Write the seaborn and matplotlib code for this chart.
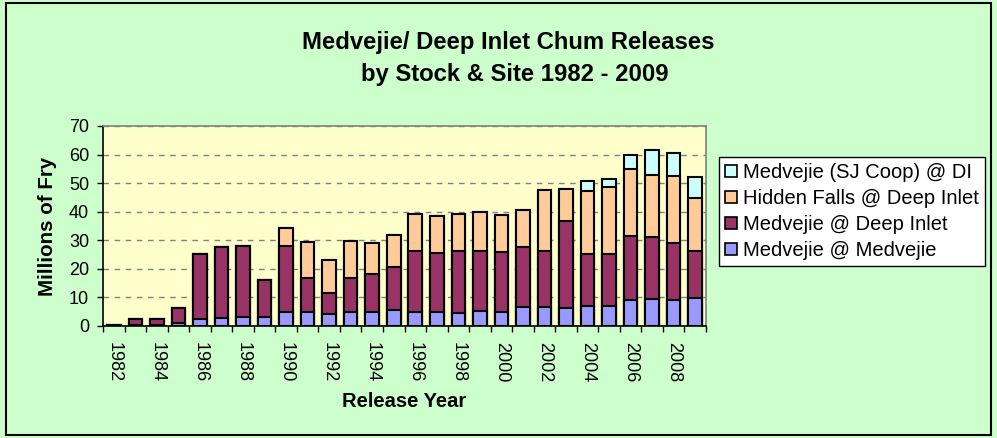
import numpy as np
import pandas as pd
import matplotlib
matplotlib.use("Agg")
import matplotlib.pyplot as plt
import seaborn as sns
from matplotlib.patches import Patch, Rectangle

# Data (millions of fry)
years = list(range(1982, 2010))
medvejie_at_medvejie = [0.1, 0.5, 0.5, 1.2, 2.3, 2.8, 3.0, 3.0, 4.9, 4.9,
                        4.1, 4.9, 4.9, 5.6, 4.9, 4.9, 4.4, 5.3, 4.9, 6.8,
                        6.8, 6.4, 6.9, 6.9, 9.1, 9.5, 9.1, 9.7]
medvejie_at_deep_inlet = [0.2, 1.8, 1.8, 5.1, 22.8, 24.7, 25.0, 13.2, 23.1, 12.0,
                          7.4, 11.8, 13.2, 14.9, 21.2, 20.8, 22.0, 21.1, 21.0, 21.0,
                          19.3, 30.5, 18.2, 18.2, 22.4, 21.5, 19.8, 16.4]
hidden_falls_at_deep_inlet = [0, 0, 0, 0, 0, 0, 0, 0, 6.3, 12.6,
                              11.7, 13.0, 10.9, 11.5, 13.2, 12.8, 12.7, 13.4, 13.1, 12.9,
                              21.5, 11.2, 22.3, 23.4, 23.3, 21.7, 23.6, 18.7]
sj_coop_at_di = [0, 0, 0, 0, 0, 0, 0, 0, 0, 0,
                 0, 0, 0, 0, 0, 0, 0, 0, 0, 0,
                 0, 0, 3.2, 3.1, 4.9, 9.0, 8.2, 7.2]

series_names = ["Medvejie @ Medvejie", "Medvejie @ Deep Inlet",
                "Hidden Falls @ Deep Inlet", "Medvejie (SJ Coop) @ DI"]
series_colors = ["#9999FF", "#993366", "#FFCC99", "#CCFFFF"]
tick_years = [str(y) for y in years[::2]]

sns.set_style("white")
plt.rcParams['font.family'] = ['Liberation Sans', 'DejaVu Sans']
plt.rcParams.update({"text.color": "black", "axes.labelcolor": "black",
                     "xtick.color": "black", "ytick.color": "black"})

df = pd.DataFrame({
    "Year": [str(y) for y in years],
    series_names[0]: medvejie_at_medvejie,
    series_names[1]: medvejie_at_deep_inlet,
    series_names[2]: hidden_falls_at_deep_inlet,
    series_names[3]: sj_coop_at_di,
})
# running totals for stacking
cum = df[series_names].cumsum(axis=1)
cum["Year"] = df["Year"]

fig = plt.figure(figsize=(9.97, 4.38), dpi=100, facecolor="#CCFFCC")
ax = fig.add_axes([103 / 997, 1 - 326 / 438, 603 / 997, 200 / 438])
ax.set_facecolor("#FFFFCC")
ax.set_axisbelow(True)

# draw tallest stack first, lower segments on top of it
for name, color in zip(reversed(series_names), reversed(series_colors)):
    sns.barplot(data=cum, x="Year", y=name, color=color, saturation=1,
                edgecolor="black", linewidth=1.5, width=0.63,
                errorbar=None, ax=ax)

ax.set_ylim(0, 70)
ax.set_xlim(-0.5, len(years) - 0.5)
ax.set_yticks(range(0, 71, 10))
ax.yaxis.grid(True, color="#808080", linestyle=(0, (4, 4)), linewidth=1)
ax.tick_params(axis="y", direction="out", length=4.5, width=1, pad=5.5,
               labelsize=13, left=True, color="black", labelcolor="black")

# boundary ticks, labels on every other year
ax.set_xticks(np.arange(-0.5, len(years), 1), labels=[""] * (len(years) + 1))
ax.set_xticks(np.arange(0, len(years), 2), labels=tick_years, minor=True)
ax.tick_params(axis="x", which="major", direction="out", length=4.5,
               width=1, bottom=True, color="black")
ax.tick_params(axis="x", which="minor", length=0, pad=11.5, labelsize=13,
               labelrotation=-90, labelcolor="black")

for s in ["left", "bottom"]:
    ax.spines[s].set_color("black")
    ax.spines[s].set_linewidth(1.2)
for s in ["top", "right"]:
    ax.spines[s].set_color("#808080")
    ax.spines[s].set_linewidth(1.2)

ax.set_ylabel("Millions of Fry", fontsize=14.8, fontweight="bold", color="black")
ax.yaxis.set_label_coords(-0.077, 0.5)
ax.set_xlabel("Release Year", fontsize=14.5, fontweight="bold", color="black")
ax.xaxis.set_label_coords(0.5, -0.33)

fig.text(508 / 997, 1 - 42 / 438, "Medvejie/ Deep Inlet Chum Releases",
         ha="center", va="center", fontsize=17.2, fontweight="bold", color="black")
fig.text(515 / 997, 1 - 74 / 438, "by Stock & Site 1982 - 2009",
         ha="center", va="center", fontsize=17.2, fontweight="bold", color="black")

handles = [Patch(facecolor=c, edgecolor="black", linewidth=1.2)
           for c in reversed(series_colors)]
leg = fig.legend(handles, list(reversed(series_names)), loc="upper left",
                 bbox_to_anchor=(719 / 997, 1 - 157 / 438), borderaxespad=0,
                 fontsize=14.5, frameon=True, fancybox=False, framealpha=1,
                 edgecolor="black", handlelength=0.6, handleheight=0.6,
                 handletextpad=0.3, labelspacing=0.35, borderpad=0.3,
                 labelcolor="black")
leg.get_frame().set_linewidth(1)

fig.patches.append(Rectangle((6 / 997, 3 / 438), 985 / 997, 432 / 438,
                             transform=fig.transFigure, fill=False,
                             edgecolor="black", linewidth=1.5))

fig.savefig("out.png", dpi=100, facecolor=fig.get_facecolor())
